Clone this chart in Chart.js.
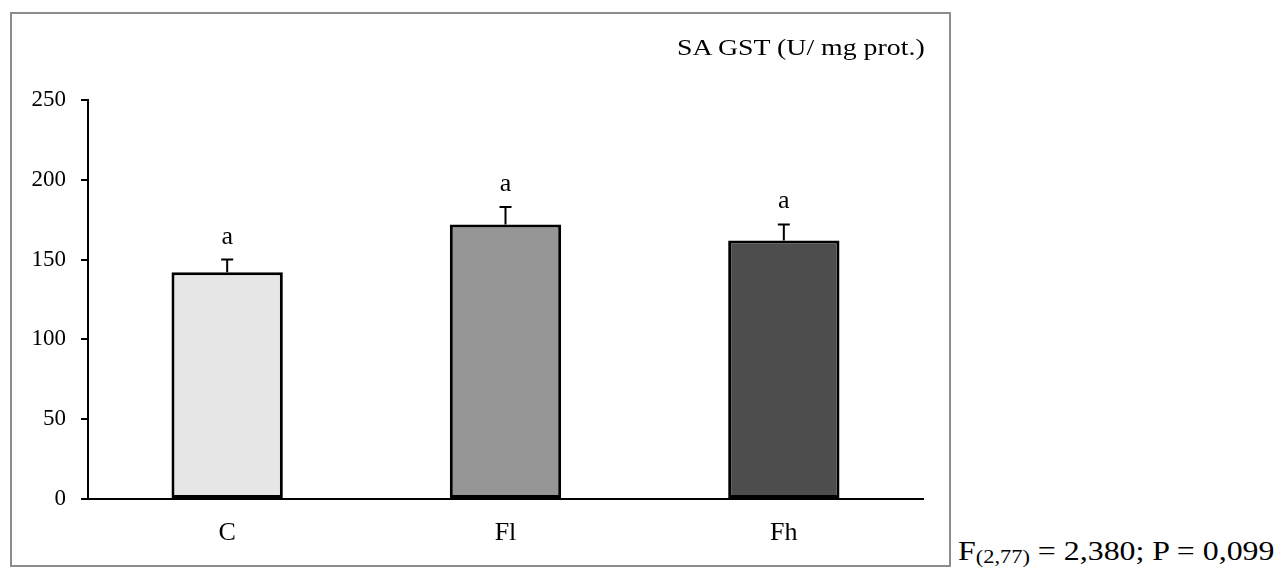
<!DOCTYPE html>
<html lang="pt-br">
<head>
    <meta charset="UTF-8">
    <title>SA GST</title>
    <script src="https://cdn.jsdelivr.net/npm/chart.js@4.4.1/dist/chart.umd.min.js"></script>
    <style>
        body { margin: 0; background: #fff; font-family: "Liberation Serif", serif; }
        .box {
            position: absolute; left: 10px; top: 12px;
            width: 937px; height: 551px;
            border: 2px solid #8c8c8c;
        }
        .box canvas { position: absolute; left: 0; top: 0; }
        .title {
            position: absolute; right: 24px; top: 22px;
            font-size: 23px; line-height: 1; color: #000; white-space: nowrap;
            transform: scaleX(1.21); transform-origin: right center;
        }
        .stat {
            position: absolute; left: 958px; top: 538px;
            font-size: 27px; line-height: 1; color: #000; white-space: nowrap;
            transform: scaleX(1.18); transform-origin: left center;
        }
        .stat sub { font-size: 19px; vertical-align: -3px; line-height: 1; }
    </style>
</head>
<body>
    <div class="box">
        <canvas id="gst-chart" width="937" height="551"></canvas>
        <div class="title">SA GST (U/ mg prot.)</div>
    </div>
    <div class="stat">F<sub>(2,77)</sub> = 2,380; P = 0,099</div>

    <script>
        const groups = ['C', 'Fl', 'Fh'];
        const means = [142, 172, 162];
        const errors = [8, 11, 10];
        const letters = ['a', 'a', 'a'];
        const fills = ['#e6e6e6', '#969696', '#4d4d4d'];
        const yMin = 0, yMax = 250, yStep = 50;

        // error bars + significance letters
        const errorBars = {
            id: 'errorBars',
            afterDatasetsDraw(chart) {
                const ctx = chart.ctx;
                const meta = chart.getDatasetMeta(0);
                const y = chart.scales.y;
                ctx.save();
                ctx.strokeStyle = '#000';
                ctx.lineWidth = 2;
                ctx.fillStyle = '#000';
                ctx.font = '26px "Liberation Serif"';
                ctx.textAlign = 'center';
                ctx.textBaseline = 'alphabetic';
                meta.data.forEach((bar, i) => {
                    const x = bar.x;
                    const yTop = y.getPixelForValue(means[i] + errors[i]);
                    const yBase = y.getPixelForValue(means[i]);
                    ctx.beginPath();
                    ctx.moveTo(x, yBase);
                    ctx.lineTo(x, yTop);
                    ctx.moveTo(x - 6, yTop);
                    ctx.lineTo(x + 6, yTop);
                    ctx.stroke();
                    ctx.fillText(letters[i], x, yTop - 16);
                });
                ctx.restore();
            }
        };

        new Chart(document.getElementById('gst-chart'), {
            type: 'bar',
            data: {
                labels: groups,
                datasets: [{
                    data: means,
                    backgroundColor: fills,
                    borderColor: '#000',
                    borderWidth: 3,
                    borderSkipped: false,
                    barPercentage: 0.4,
                    categoryPercentage: 1
                }]
            },
            options: {
                responsive: false,
                animation: false,
                layout: { padding: { top: 86, right: 26, left: 0, bottom: 0 } },
                plugins: { legend: { display: false }, tooltip: { enabled: false } },
                scales: {
                    x: {
                        grid: { display: false },
                        border: { color: '#000', width: 2 },
                        ticks: { color: '#000', font: { family: 'Liberation Serif', size: 26 }, padding: 11 },
                        afterFit: s => { s.height = 66; }
                    },
                    y: {
                        min: yMin, max: yMax,
                        ticks: { stepSize: yStep, color: '#000', font: { family: 'Liberation Serif', size: 23 }, padding: 15 },
                        grid: { drawOnChartArea: false, color: '#000', lineWidth: 2, tickLength: 7 },
                        border: { color: '#000', width: 2 },
                        afterFit: s => { s.width = 76; }
                    }
                }
            },
            plugins: [errorBars]
        });
    </script>
</body>
</html>
